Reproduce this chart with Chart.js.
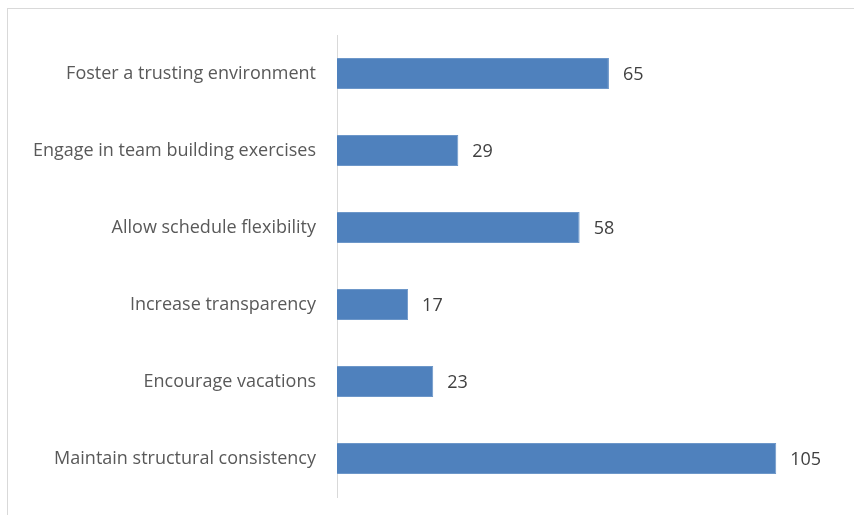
<!DOCTYPE html>
<html lang="en">
<head>
  <meta charset="UTF-8">
  <title>Team Trust Actions</title>
  <script src="https://cdn.jsdelivr.net/npm/chart.js"></script>
  <style>
    html, body {
      margin: 0;
      padding: 0;
      background: #fff;
      overflow: hidden;
    }
    .frame {
      position: absolute;
      left: 7px;
      top: 8px;
      width: 900px;
      height: 600px;
      border-left: 1px solid #d9d9d9;
      border-top: 1px solid #d9d9d9;
    }
    #barChart {
      position: absolute;
      left: 0;
      top: 0;
    }
  </style>
</head>
<body>
  <div class="frame"></div>
  <canvas id="barChart" width="854" height="515"></canvas>

  <script>
    const categories = [
      'Foster a trusting environment',
      'Engage in team building exercises',
      'Allow schedule flexibility',
      'Increase transparency',
      'Encourage vacations',
      'Maintain structural consistency'
    ];
    const values = [65, 29, 58, 17, 23, 105];

    const fontFamily = '"Open Sans", Lato, sans-serif';

    // draws the number just right of each bar
    const valueLabels = {
      id: 'valueLabels',
      afterDatasetsDraw(chart) {
        const ctx = chart.ctx;
        const meta = chart.getDatasetMeta(0);
        ctx.save();
        ctx.font = '18px ' + fontFamily;
        ctx.fillStyle = '#404040';
        ctx.textAlign = 'left';
        ctx.textBaseline = 'middle';
        meta.data.forEach((bar, i) => {
          ctx.fillText(values[i], bar.x + 14, bar.y + 1);
        });
        ctx.restore();
      }
    };

    const chart = new Chart(document.getElementById('barChart'), {
      type: 'bar',
      data: {
        labels: categories,
        datasets: [{
          data: values,
          backgroundColor: '#4f81bd',
          borderColor: '#6d97c9',
          borderWidth: 1,
          barPercentage: 0.4,
          categoryPercentage: 1
        }]
      },
      options: {
        indexAxis: 'y',
        responsive: false,
        maintainAspectRatio: false,
        animation: false,
        layout: {
          padding: { top: 35, bottom: 18, left: 54, right: 15 }
        },
        plugins: {
          legend: { display: false },
          tooltip: { enabled: false }
        },
        scales: {
          x: {
            display: false,
            min: 0,
            max: 120
          },
          y: {
            // tick padding also pads the top/bottom of the axis, so the
            // label gap comes from tickLength instead
            grid: { display: false, drawTicks: true, tickLength: 20 },
            border: { display: true, color: '#d9d9d9', width: 1 },
            ticks: {
              color: '#595959',
              padding: 1,
              font: { family: fontFamily, size: 18 }
            }
          }
        }
      },
      plugins: [valueLabels]
    });

    // nudge padding so the plot area sits where the original one does
    const area = chart.chartArea;
    const pad = chart.options.layout.padding;
    pad.left += 337 - area.left;
    pad.bottom += 497 - area.bottom;
    pad.top += 35 - area.top;
    chart.update();
  </script>
</body>
</html>
